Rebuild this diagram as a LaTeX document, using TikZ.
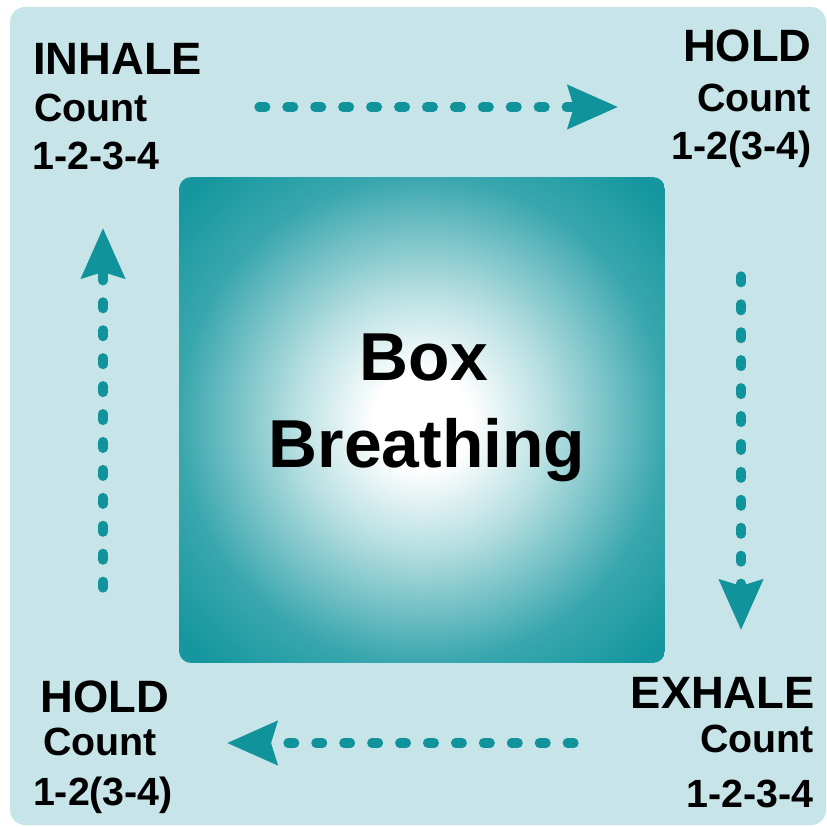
\documentclass[tikz,border=0pt]{standalone}
\usepackage{fontspec}
\setmainfont{Liberation Sans}
\usetikzlibrary{arrows.meta}
\definecolor{boxteal}{HTML}{16979F}
\definecolor{arrowteal}{HTML}{11939B}
\definecolor{panelblue}{HTML}{C7E4E8}
\pgfdeclareradialshading{boxglow}{\pgfpoint{0bp}{0bp}}{color(0bp)=(white); color(5bp)=(white); color(13bp)=(boxteal!30!white); color(25bp)=(boxteal!85!white); color(33bp)=(boxteal); color(50bp)=(boxteal)}
\tikzset{
  title/.style={font=\fontsize{25.8}{30}\selectfont\bfseries, inner sep=0pt},
  count/.style={font=\fontsize{22.4}{26}\selectfont\bfseries, inner sep=0pt},
  headline/.style={font=\fontsize{38.6}{46}\selectfont\bfseries, inner sep=0pt},
  breathbox/.style={shading=boxglow, rounded corners=0.24cm, minimum width=9.72cm, minimum height=9.72cm, inner sep=0pt},
  flow/.style={arrowteal, line width=5.3pt, line cap=round, dash pattern=on 3.8pt off 12.1pt, -{Stealth[length=1cm, width=0.86cm, inset=0.12cm]}}
}
\begin{document}
\begin{tikzpicture}[x=0.02cm, y=-0.02cm]
  \useasboundingbox (0,0) rectangle (826,827);
  \fill[white] (0,0) rectangle (826,827);
  \fill[panelblue, rounded corners=0.3cm] (10,7) rectangle (826,825);

  % centre square
  \node[breathbox] (box) at (422,420) {};
  \node[headline, anchor=base] (box-word) at (424,380) {Box};
  \node[headline, anchor=base] (breathing-word) at (427,467) {Breathing};

  % corner labels
  \node[title, anchor=base west] (inhale) at (33,75) {INHALE};
  \node[count, anchor=base west] (inhale-count) at (34,122) {Count};
  \node[count, anchor=base west] (inhale-beats) at (32,170) {1-2-3-4};

  \node[title, anchor=base east] (hold-top) at (812,62) {HOLD};
  \node[count, anchor=base east] (hold-top-count) at (811,112) {Count};
  \node[count, anchor=base east] (hold-top-beats) at (812,160) {1-2(3-4)};

  \node[title, anchor=base east] (exhale) at (815,708) {EXHALE};
  \node[count, anchor=base east] (exhale-count) at (814,752) {Count};
  \node[count, anchor=base east] (exhale-beats) at (814,807) {1-2-3-4};

  \node[title, anchor=base] (hold-bottom) at (105,712) {HOLD};
  \node[count, anchor=base] (hold-bottom-count) at (100,755) {Count};
  \node[count, anchor=base] (hold-bottom-beats) at (103,805) {1-2(3-4)};

  % flow arrows
  \coordinate (top-a) at (259,107);  \coordinate (top-b) at (618,107);
  \coordinate (right-a) at (741,276); \coordinate (right-b) at (741,630);
  \coordinate (bottom-a) at (574,743); \coordinate (bottom-b) at (227,743);
  \coordinate (left-a) at (103,588);  \coordinate (left-b) at (103,228);
  \draw[flow] (top-a) -- (top-b);
  \draw[flow] (right-a) -- (right-b);
  \draw[flow] (bottom-a) -- (bottom-b);
  \draw[flow] (left-a) -- (left-b);
\end{tikzpicture}
\end{document}
